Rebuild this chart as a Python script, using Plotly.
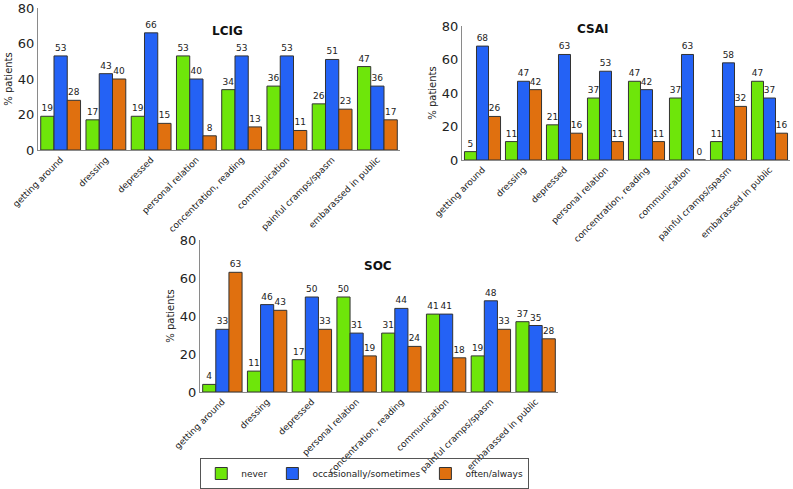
import plotly.graph_objects as go

categories = ['getting around', 'dressing', 'depressed', 'personal relation',
              'concentration, reading', 'communication', 'painful cramps/spasm',
              'embarassed in public']
series_names = ['never', 'occasionally/sometimes', 'often/always']

lcig_never = [19, 17, 19, 53, 34, 36, 26, 47]
lcig_occ = [53, 43, 66, 40, 53, 53, 51, 36]
lcig_often = [28, 40, 15, 8, 13, 11, 23, 17]

csai_never = [5, 11, 21, 37, 47, 37, 11, 47]
csai_occ = [68, 47, 63, 53, 42, 63, 58, 37]
csai_often = [26, 42, 16, 11, 11, 0, 32, 16]

soc_never = [4, 11, 17, 50, 31, 41, 19, 37]
soc_occ = [33, 46, 50, 31, 44, 41, 48, 35]
soc_often = [63, 43, 33, 19, 24, 18, 33, 28]

colors = ['#6EE60A', '#2462F5', '#E0700F']
W, H = 793, 489

# panel frames in pixels: (x0, x1), (top, bottom), title position
panels = [
    ('LCIG', [lcig_never, lcig_occ, lcig_often], (38, 400), (8, 150), 210, 22),
    ('CSAI', [csai_never, csai_occ, csai_often], (462, 790), (26, 160), 610, 20),
    ('SOC', [soc_never, soc_occ, soc_often], (200, 558), (240, 392), 378, 266),
]

fig = go.Figure()
annotations = []
for i, (name, data, (x0, x1), (y0, y1), tx, ty) in enumerate(panels):
    suffix = '' if i == 0 else str(i + 1)
    for j, vals in enumerate(data):
        fig.add_trace(go.Bar(
            x=categories, y=vals, name=series_names[j],
            marker=dict(color=colors[j], line=dict(color='#333333', width=1)),
            text=[str(v) for v in vals], textposition='outside',
            textfont=dict(size=9, color='#222222'), cliponaxis=False,
            xaxis='x' + suffix, yaxis='y' + suffix,
            showlegend=(i == 0),
        ))
    axis_common = dict(showline=True, linecolor='#8a8a8a', linewidth=1, showgrid=False,
                       zeroline=False, ticks='', automargin=False)
    fig.layout['xaxis' + suffix] = dict(
        domain=[x0 / W, x1 / W], anchor='y' + suffix, tickangle=-45,
        tickfont=dict(size=9, color='#222222'), **axis_common)
    fig.layout['yaxis' + suffix] = dict(
        domain=[1 - y1 / H, 1 - y0 / H], anchor='x' + suffix, range=[0, 80], dtick=20,
        tickfont=dict(size=13, color='#222222'),
        title=dict(text='% patients', font=dict(size=10, color='#222222'), standoff=3),
        **axis_common)
    annotations.append(dict(text='<b>%s</b>' % name, x=tx / W, y=1 - ty / H,
                            xref='paper', yref='paper', showarrow=False,
                            font=dict(size=12, color='#111111')))

fig.update_layout(
    width=W, height=H,
    barmode='group', bargap=0.12, bargroupgap=0,
    paper_bgcolor='white', plot_bgcolor='white',
    font=dict(family='DejaVu Sans', color='#222222'),
    margin=dict(l=0, r=0, t=0, b=0),
    annotations=annotations,
    legend=dict(orientation='h', x=0.46, y=0.0, xanchor='center', yanchor='bottom',
                bordercolor='#555555', borderwidth=1, font=dict(size=9),
                bgcolor='rgba(255,255,255,0)', itemwidth=30, traceorder='normal'),
)

fig.write_html('out.html', config={'displayModeBar': False},
               post_script="document.body.style.margin='0';")
